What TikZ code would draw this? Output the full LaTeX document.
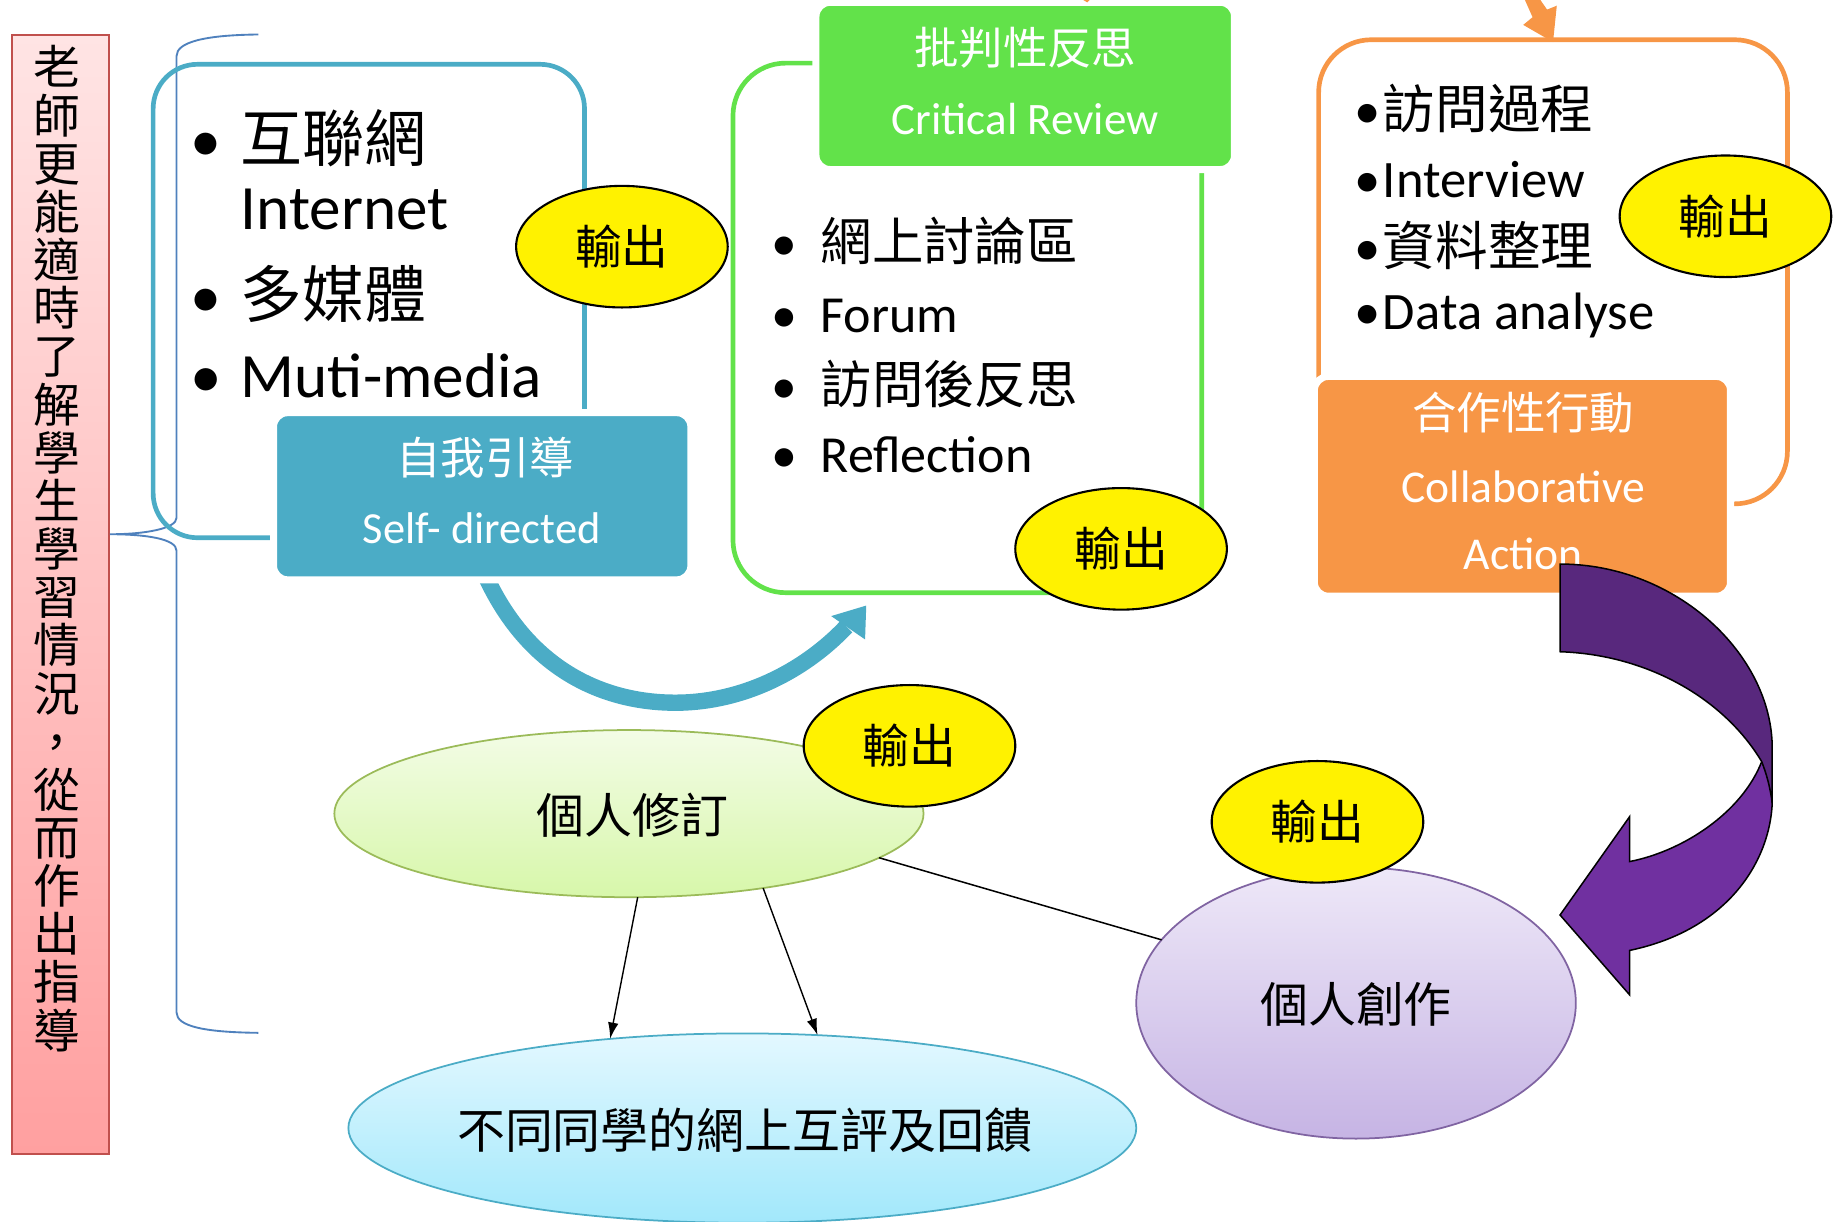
\documentclass[tikz,border=0pt]{standalone}
\usepackage{fontspec}
\setmainfont{Carlito}
\newfontfamily\cjk{Noto Sans CJK TC}
\usetikzlibrary{shapes.geometric,arrows.meta}
\newcommand\fsz[1]{\fontsize{#1}{#1}\selectfont}
\definecolor{bluA}{HTML}{4BACC6}
\definecolor{grnA}{HTML}{62E24A}
\definecolor{orgA}{HTML}{F79646}
\definecolor{purD}{HTML}{58287D}
\definecolor{purL}{HTML}{7030A0}
\definecolor{brc}{HTML}{4F81BD}
\definecolor{pinkT}{HTML}{FFE4E4}
\definecolor{pinkB}{HTML}{FFA0A0}
\definecolor{pinkE}{HTML}{C0504D}
\definecolor{grT}{HTML}{F3FCE6}
\definecolor{grB}{HTML}{D7F7AA}
\definecolor{grE}{HTML}{9BBB59}
\definecolor{puT}{HTML}{EEE8F8}
\definecolor{puB}{HTML}{C6B4E4}
\definecolor{puE}{HTML}{8064A2}
\definecolor{cyT}{HTML}{E3F8FF}
\definecolor{cyB}{HTML}{A2E8FB}
\begin{document}
\begin{tikzpicture}[x=1pt,y=-1pt,
  every node/.style={inner sep=0pt,outer sep=0pt},
  outl/.style={line width=4pt},
  hbox/.style={rounded corners=12pt,draw=white,line width=6pt},
  htxt/.style={anchor=base,text=white},
  bline/.style={anchor=base west},
  yel/.style={ellipse,fill=yellow,draw=black,line width=1.8pt,minimum width=181pt,minimum height=104pt,font=\cjk\fsz{40}},
  bigell/.style={ellipse,line width=1.5pt},
  elltxt/.style={font=\cjk\fsz{41}},
  conn/.style={line width=1.3pt},
  arr/.style={line width=1.2pt,-{Latex[length=14pt,width=9pt]}}]
\useasboundingbox (0,0) rectangle (1568,1045);

% left pink box
\node[draw=pinkE,line width=1.5pt,top color=pinkT,bottom color=pinkB,minimum width=83pt,minimum height=957pt] (pk) at (51.5,508.5) {};
\node[anchor=north,align=center,font=\cjk\fontsize{40}{41.2}\selectfont] (pkt) at (49,39) {老\\師\\更\\能\\適\\時\\了\\解\\學\\生\\學\\習\\情\\況\\，\\從\\而\\作\\出\\指\\導};

% brace
\draw[brc,line width=1.6pt] (221,29.5) .. controls (175,30) and (151,36) .. (151,48) -- (151,443) .. controls (151,452) and (125,457) .. (94,457) .. controls (125,457) and (151,461) .. (151,471) -- (151,866) .. controls (151,878) and (175,883) .. (221,883.5);

% outlines
\draw[outl,bluA,rounded corners=38pt] (131,55) rectangle (500,460);
\draw[outl,grnA,rounded corners=45pt] (627,54) rectangle (1028,507);
\draw[outl,orgA,rounded corners=45pt] (1128,34) rectangle (1529,431);

% blue curved arrow
\coordinate (ba1) at (412,485);
\coordinate (ba2) at (724,536);
\draw[bluA,line width=14pt] (ba1) .. controls (450,575) and (520,603) .. (584,601) .. controls (640,599) and (690,572) .. (ba2);
\fill[bluA] (711,527) -- (741,518) -- (740,547) -- cycle;

% header boxes
\node[hbox,fill=bluA,minimum width=357pt,minimum height=143pt] (selfbox) at (412.5,424.5) {};
\node[hbox,fill=grnA,minimum width=358pt,minimum height=143pt] (critbox) at (877,73.5) {};
\node[hbox,fill=orgA,minimum width=356pt,minimum height=188pt] (collbox) at (1302.3,416) {};

\node[htxt,font=\cjk\fsz{38}] (t1) at (415,406) {自我引導};
\node[htxt,font=\fsz{38}] (t2) at (412,465) {Self- directed};
\node[htxt,font=\cjk\fsz{38}] (t3) at (877,55) {批判性反思};
\node[htxt,font=\fsz{38.5}] (t4) at (877,115) {Critical Review};
\node[htxt,font=\cjk\fsz{38}] (t5) at (1303,367) {合作性行動};
\node[htxt,font=\fsz{39}] (t6) at (1303,429.5) {Collaborative};
\node[htxt,font=\fsz{39}] (t7) at (1303,487) {Action};

% bullet lists
\node[bline,font=\fsz{53}] (b1) at (163,138) {\makebox[43pt][l]{•}\cjk 互聯網};
\node[bline,font=\fsz{54}] (b2) at (206,196) {Internet};
\node[bline,font=\fsz{53}] (b3) at (163,272) {\makebox[43pt][l]{•}\cjk 多媒體};
\node[bline,font=\fsz{54}] (b4) at (163,340) {\makebox[43pt][l]{•}Muti-media};

\node[bline,font=\fsz{44}] (g1) at (660,223) {\makebox[42pt][l]{•}\cjk 網上討論區};
\node[bline,font=\fsz{44.5}] (g2) at (660,284) {\makebox[42pt][l]{•}Forum};
\node[bline,font=\fsz{44}] (g3) at (660,345) {\makebox[42pt][l]{•}\cjk 訪問後反思};
\node[bline,font=\fsz{44.5}] (g4) at (660,404) {\makebox[42pt][l]{•}Reflection};

\node[bline,font=\fsz{45}] (o1) at (1159,110) {\makebox[24pt][l]{•}\cjk 訪問過程};
\node[bline,font=\fsz{45}] (o2) at (1159,169) {\makebox[24pt][l]{•}Interview};
\node[bline,font=\fsz{45}] (o3) at (1159,227) {\makebox[24pt][l]{•}\cjk 資料整理};
\node[bline,font=\fsz{45}] (o4) at (1159,282) {\makebox[24pt][l]{•}Data analyse};

% purple curved arrow
\filldraw[fill=purL,draw=black,line width=1.3pt] (1394,737) .. controls (1440,728) and (1490,695) .. (1507,651.5) -- (1516,640) -- (1516,687) .. controls (1514,735) and (1480,795) .. (1394,813) -- (1394,851) -- (1334.5,782.7) -- (1394,698.6) -- cycle;
\filldraw[fill=purD,draw=black,line width=1.3pt] (1334.5,482.5) .. controls (1434,482.5) and (1516,560) .. (1516,640) -- (1516,687) .. controls (1514,672) and (1511,662) .. (1507,651.5) .. controls (1475,598) and (1410,560) .. (1334.5,557.5) -- cycle;

% small orange arrow at top
\fill[orgA] (1304,-1) -- (1311,14.7) -- (1303,21.3) -- (1328.5,36) -- (1331.7,4.9) -- (1323.4,8.2) -- (1317,-1) -- cycle;
\fill[orgA] (925,-1) -- (933,-1) -- (930,2) -- cycle;

% ellipses
\node[bigell,top color=grT,bottom color=grB,draw=grE,minimum width=504pt,minimum height=143pt] (xd) at (538,696) {};
\node[elltxt] (xdt) at (541,697) {個人修訂};
\node[bigell,top color=puT,bottom color=puB,draw=puE,minimum width=376pt,minimum height=232pt] (cz) at (1160,858) {};
\node[elltxt] (czt) at (1160,859) {個人創作};
\node[bigell,top color=cyT,bottom color=cyB,draw=bluA,minimum width=674pt,minimum height=162pt] (hp) at (635,965) {};
\node[elltxt] (hpt) at (637,967) {不同同學的網上互評及回饋};

% connectors
\draw[conn] (xd.-10.4) -- (cz.162.2);
\draw[arr] (xd.-84.4) -- (hp.146.5);
\draw[arr] (xd.-29.7) -- (hp.51.6);

% yellow output ellipses
\node[yel] (y1) at (532,211) {輸出};
\node[yel] (y2) at (959,469.5) {輸出};
\node[yel] (y3) at (1476,185) {輸出};
\node[yel] (y4) at (778,638) {輸出};
\node[yel] (y5) at (1127,703) {輸出};
\end{tikzpicture}
\end{document}
